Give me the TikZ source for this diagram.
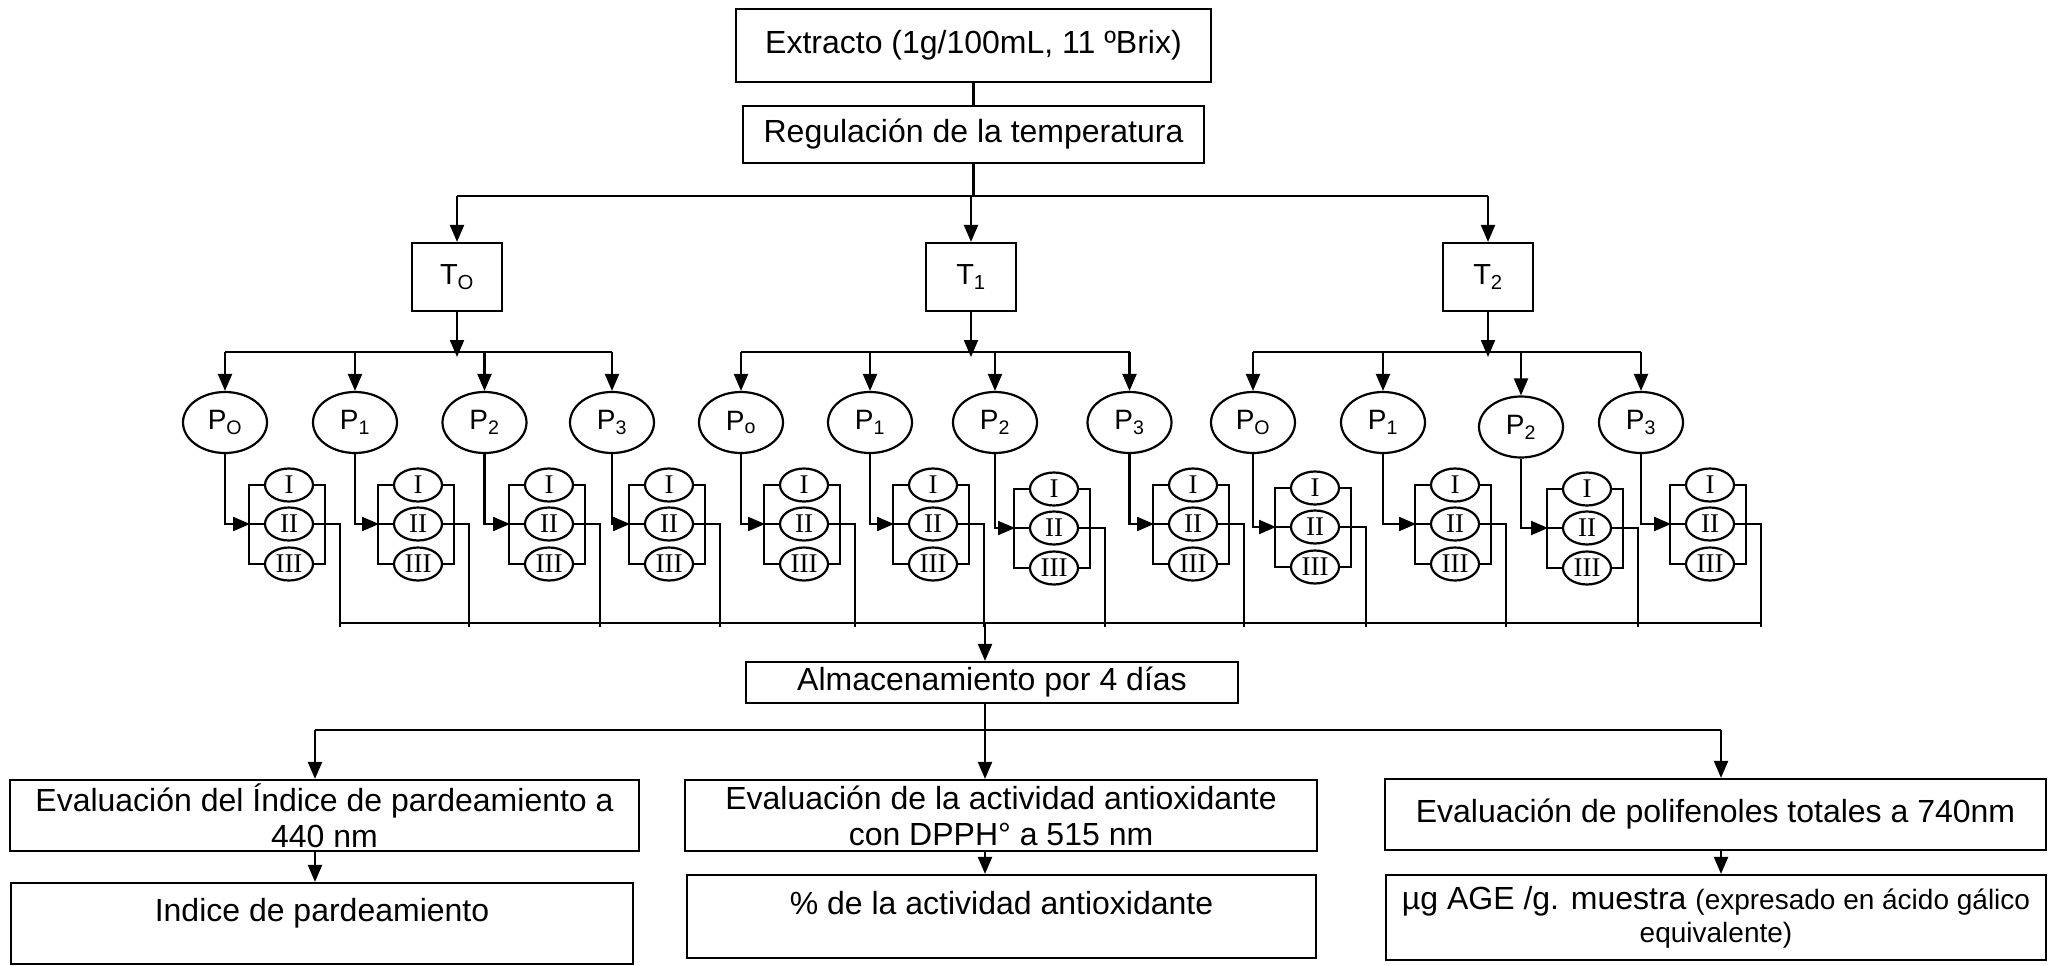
\documentclass[tikz,border=0pt]{standalone}
\usepackage{fontspec}
\setmainfont{Liberation Sans}
\newfontfamily\numfont{Liberation Serif}
\usetikzlibrary{arrows.meta,shapes.geometric}
\begin{document}
\begin{tikzpicture}[x=1pt,y=-1pt,line width=2.2pt,
  every node/.style={inner sep=0pt},
  box/.style={draw, rectangle, font=\fontsize{32}{36}\selectfont},
  tbox/.style={draw, rectangle, minimum width=90pt, minimum height=68pt, font=\fontsize{29}{32}\selectfont},
  pell/.style={draw, ellipse, minimum width=84pt, minimum height=61pt, font=\fontsize{28}{30}\selectfont},
  sell/.style={draw, ellipse, minimum width=48pt, minimum height=33pt, font=\numfont\fontsize{27}{28}\selectfont},
  arr/.style={-{Triangle[length=17pt,width=14pt]}},
]
\useasboundingbox (0,0) rectangle (2050,966);

% top
\node[box, minimum width=475pt, minimum height=73pt] (ext) at (973.5,45.5) {Extracto (1g/100mL, 11 ºBrix)};
\node[box, minimum width=461pt, minimum height=57pt] (reg) at (973.5,134.5) {Regulación de la temperatura};
\node[tbox] (T0) at (457,277) {T\textsubscript{O}};
\node[tbox] (T1) at (971,277) {T\textsubscript{1}};
\node[tbox] (T2) at (1488,277) {T\textsubscript{2}};

\coordinate (tbr) at (971,196);
\draw (ext) -- (reg);
\draw (reg.south) -- (reg.south |- tbr);
\draw (T0.north |- tbr) -- (T2.north |- tbr);
\foreach \t in {T0,T1,T2} \draw[arr] (\t.north |- tbr) -- (\t.north);

\coordinate (pbr) at (0,352);
\coordinate (ptip) at (0,357);
\foreach \t in {T0,T1,T2} \draw[arr] (\t.south) -- (\t.south |- ptip);

% P nodes
\node[pell] (pa0) at (225,422.5) {P\textsubscript{O}};
\node[pell] (pa1) at (355,422.5) {P\textsubscript{1}};
\node[pell] (pa2) at (484.5,422.5) {P\textsubscript{2}};
\node[pell] (pa3) at (612,422.5) {P\textsubscript{3}};
\node[pell] (pb0) at (741,422.5) {P\textsubscript{o}};
\node[pell] (pb1) at (870,422.5) {P\textsubscript{1}};
\node[pell] (pb2) at (995,422.5) {P\textsubscript{2}};
\node[pell] (pb3) at (1129.5,422.5) {P\textsubscript{3}};
\node[pell] (pc0) at (1253,422.5) {P\textsubscript{O}};
\node[pell] (pc1) at (1383,422.5) {P\textsubscript{1}};
\node[pell] (pc2) at (1521,427) {P\textsubscript{2}};
\node[pell] (pc3) at (1641,422.5) {P\textsubscript{3}};

\draw (pa0.north |- pbr) -- (pa3.north |- pbr);
\draw (pb0.north |- pbr) -- (pb3.north |- pbr);
\draw (pc0.north |- pbr) -- (pc3.north |- pbr);
\foreach \p in {pa0,pa1,pa2,pa3,pb0,pb1,pb2,pb3,pc0,pc1,pc2,pc3}
  \draw[arr] (\p.north |- pbr) -- (\p.north);

% replicate groups
\foreach \p/\gx/\gy in {pa0/289/524, pa1/418/524, pa2/549/524, pa3/669/524,
                        pb0/804/524, pb1/933/524, pb2/1054/528, pb3/1193/524,
                        pc0/1315/527, pc1/1455/524, pc2/1587/528, pc3/1710/524}{
  \node[sell] (\p-1) at (\gx,\gy-39) {I};
  \node[sell] (\p-2) at (\gx,\gy) {II};
  \node[sell] (\p-3) at (\gx,\gy+40) {III};
  \coordinate (\p-l) at (\gx-39,\gy);
  \coordinate (\p-o) at (\gx+51,623);
  \draw (\p-1.west) -- ++(-15,0) |- (\p-3.west);
  \draw (\p-1.east) -- ++(11,0) |- (\p-3.east);
  \draw (\p-l) -- (\p-2.west);
  \draw[arr] (\p.south) |- (\p-l);
  \draw (\p-2.east) -| ([yshift=-4pt]\p-o);
}
\draw (pa0-o) -- (pc3-o);

% storage
\node[box, minimum width=492pt, minimum height=41pt] (alm) at (992,682.5) {Almacenamiento por 4 días};
\coordinate (down) at (985,623);
\draw[arr] (down) -- (down |- alm.north);

% evaluations
\node[box, minimum width=629pt, minimum height=71pt, align=center] (ev1) at (324.5,815.5)
  {Evaluación del Índice de pardeamiento a\\440 nm};
\node[box, minimum width=632pt, minimum height=71pt, align=center] (ev2) at (1001,815.5)
  {Evaluación de la actividad antioxidante\\con DPPH° a 515 nm};
\node[box, minimum width=661pt, minimum height=71pt] (ev3) at (1715.5,814.5)
  {Evaluación de polifenoles totales a 740nm};

\node[box, minimum width=622pt, minimum height=81pt, text depth=27pt] (res1) at (322,923.5)
  {Indice de pardeamiento};
\node[box, minimum width=629pt, minimum height=83pt, text depth=27pt] (res2) at (1001.5,916.5)
  {\% de la actividad antioxidante};
\node[box, minimum width=660pt, minimum height=85pt, align=center, font=\fontsize{32}{33}\selectfont] (res3) at (1716,917.5)
  {µg AGE /g. muestra {\fontsize{28}{33}\selectfont (expresado en ácido gálico}\\{\fontsize{28}{33}\selectfont equivalente)}};

\coordinate (d1) at (315,730);
\coordinate (d2) at (985,730);
\coordinate (d3) at (1721,730);
\draw (alm.south -| d2) -- (d2);
\draw (d1) -- (d3);
\draw[arr] (d1) -- (d1 |- ev1.north);
\draw[arr] (d2) -- (d2 |- ev2.north);
\draw[arr] (d3) -- (d3 |- ev3.north);
\draw[arr] (d1 |- ev1.south) -- (d1 |- res1.north);
\draw[arr] (d2 |- ev2.south) -- (d2 |- res2.north);
\draw[arr] (d3 |- ev3.south) -- (d3 |- res3.north);
\end{tikzpicture}
\end{document}
